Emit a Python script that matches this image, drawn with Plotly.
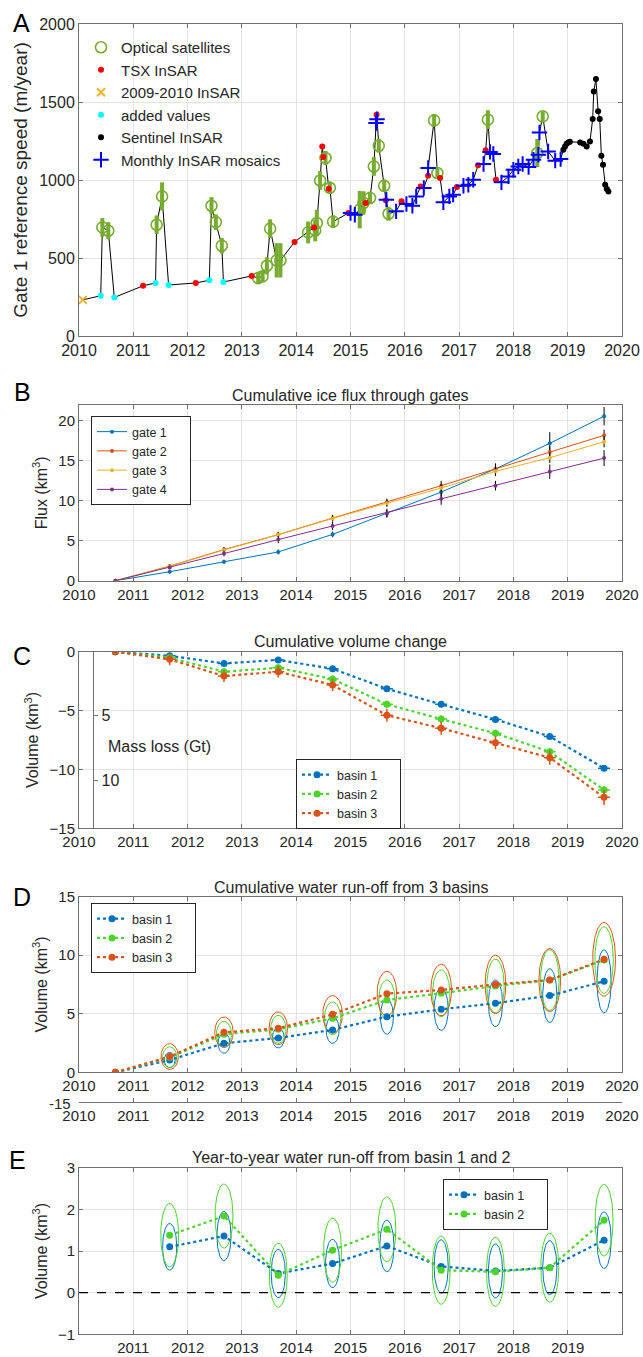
import numpy as np
import plotly.graph_objects as go

# ---------------- Panel A data ----------------
opt_t = [2010.43, 2010.54, 2011.43, 2011.53, 2012.44, 2012.52, 2012.63, 2013.30, 2013.38, 2013.46,
         2013.52, 2013.64, 2013.71, 2014.22, 2014.35, 2014.38, 2014.44, 2014.54, 2014.62, 2014.68,
         2015.17, 2015.24, 2015.36, 2015.43, 2015.52, 2015.62, 2015.70, 2016.54, 2016.60, 2017.53,
         2018.44, 2018.54]
opt_v = [696, 675, 713, 895, 835, 730, 579, 372, 382, 450,
         688, 485, 485, 664, 677, 724, 997, 1141, 950, 733,
         810, 853, 885, 1087, 1220, 963, 784, 1382, 1045, 1387,
         1173, 1408]
opt_e = [60, 55, 60, 90, 55, 50, 50, 40, 35, 55,
         60, 110, 110, 70, 70, 85, 60, 45, 40, 40,
         120, 75, 40, 60, 45, 40, 45, 40, 30, 60,
         90, 30]

tsx_t = [2011.18, 2012.15, 2013.18, 2013.97, 2014.33, 2014.48, 2014.50, 2014.60, 2014.96, 2015.28,
         2015.48, 2015.65, 2015.94, 2016.29, 2016.43, 2016.65, 2016.96, 2017.35, 2017.49, 2017.68]
tsx_v = [322, 340, 385, 603, 696, 1215, 1147, 944, 788, 853,
         1418, 870, 863, 959, 1028, 1013, 955, 1094, 1190, 1002]

old_t = [2010.07]
old_v = [232]

add_t = [2010.40, 2010.65, 2011.41, 2011.65, 2012.40, 2012.66]
add_v = [258, 247, 340, 327, 357, 346]

sen_t = [2018.92, 2018.95, 2018.98, 2019.01, 2019.04, 2019.23, 2019.29, 2019.35, 2019.41, 2019.46,
         2019.48, 2019.52, 2019.56, 2019.59, 2019.62, 2019.65, 2019.69, 2019.72, 2019.75]
sen_v = [1194, 1215, 1232, 1241, 1245, 1241, 1232, 1215, 1247, 1391,
         1568, 1647, 1440, 1391, 1156, 1098, 970, 942, 927]

mon_t = [2015.00, 2015.08, 2015.47, 2015.49, 2015.66, 2015.84, 2016.03, 2016.14, 2016.21, 2016.35,
         2016.43, 2016.71, 2016.82, 2016.89, 2017.08, 2017.17, 2017.26, 2017.45, 2017.57, 2017.63,
         2017.78, 2017.91, 2018.00, 2018.09, 2018.17, 2018.28, 2018.37, 2018.46, 2018.48, 2018.64,
         2018.77, 2018.87]
mon_v = [788, 777, 1365, 1390, 874, 799, 846, 835, 895, 949,
         1077, 857, 895, 906, 963, 970, 1002, 1103, 1180, 1167,
         985, 1023, 1066, 1087, 1103, 1083, 1130, 1162, 1305, 1183,
         1124, 1134]

# ---------------- Panels B-E data ----------------
years = [2010.67, 2011.67, 2012.67, 2013.67, 2014.67, 2015.67, 2016.67, 2017.67, 2018.67, 2019.67]

gate1 = [0, 1.12, 2.37, 3.6, 5.8, 8.4, 11.1, 14.0, 17.2, 20.6]
gate2 = [0, 1.83, 3.9, 5.77, 7.84, 9.83, 11.9, 14.0, 16.1, 18.2]
gate3 = [0, 1.8, 3.85, 5.75, 7.8, 9.7, 11.6, 13.7, 15.4, 17.4]
gate4 = [0, 1.66, 3.4, 5.15, 6.85, 8.46, 10.25, 11.9, 13.65, 15.35]
gate1_err = [0, 0.2, 0.25, 0.3, 0.35, 0.45, 0.6, 0.7, 1.4, 1.15]
gate2_err = [0, 0.25, 0.3, 0.35, 0.4, 0.45, 0.6, 0.6, 0.7, 0.7]
gate3_err = [0, 0.25, 0.3, 0.35, 0.4, 0.45, 0.55, 0.6, 0.65, 0.7]
gate4_err = [0, 0.25, 0.35, 0.45, 0.5, 0.55, 0.75, 0.6, 0.9, 1.0]

vol1 = [0, -0.35, -1.0, -0.7, -1.45, -3.15, -4.47, -5.75, -7.2, -9.9]
vol2 = [0, -0.5, -1.7, -1.36, -2.32, -4.47, -5.72, -6.93, -8.5, -11.75]
vol3 = [0, -0.65, -2.07, -1.7, -2.83, -5.4, -6.5, -7.73, -9.0, -12.37]
vol1_err = [0, 0.15, 0.15, 0.15, 0.15, 0.15, 0.15, 0.15, 0.15, 0.15]
vol2_err = [0, 0.3, 0.3, 0.3, 0.3, 0.3, 0.3, 0.3, 0.35, 0.35]
vol3_err = [0, 0.5, 0.5, 0.5, 0.5, 0.55, 0.55, 0.55, 0.6, 0.65]
vol_terr = [0, 0.11, 0.11, 0.11, 0.11, 0.11, 0.11, 0.11, 0.11, 0.11]
density = 0.917
mass_ticks = [5, 10]

run1 = [0, 1.05, 2.48, 2.93, 3.62, 4.75, 5.38, 5.9, 6.55, 7.77]
run2 = [0, 1.28, 3.25, 3.67, 4.61, 6.18, 6.75, 7.37, 7.88, 9.59]
run3 = [0, 1.34, 3.42, 3.76, 4.95, 6.72, 7.03, 7.51, 7.88, 9.65]
run1_err = [0, 0.65, 0.85, 0.85, 1.15, 1.5, 1.8, 2.0, 2.3, 2.7]
run2_err = [0, 0.9, 1.1, 1.2, 1.4, 1.7, 2.0, 2.3, 2.6, 2.85]
run3_err = [0, 1.1, 1.3, 1.4, 1.6, 1.9, 2.2, 2.5, 2.7, 3.15]
run1_terr = [0, 0.10, 0.11, 0.11, 0.12, 0.12, 0.13, 0.13, 0.13, 0.13]
run2_terr = [0, 0.13, 0.14, 0.14, 0.15, 0.15, 0.16, 0.16, 0.17, 0.17]
run3_terr = [0, 0.16, 0.17, 0.17, 0.18, 0.18, 0.19, 0.19, 0.20, 0.21]

yy_years = [2011.67, 2012.67, 2013.67, 2014.67, 2015.67, 2016.67, 2017.67, 2018.67, 2019.67]
yy1 = [1.10, 1.36, 0.46, 0.70, 1.12, 0.63, 0.52, 0.60, 1.26]
yy2 = [1.38, 1.84, 0.42, 1.02, 1.52, 0.54, 0.50, 0.60, 1.74]
yy1_err = [0.56, 0.59, 0.58, 0.58, 0.62, 0.64, 0.65, 0.65, 0.68]
yy2_err = [0.76, 0.77, 0.77, 0.77, 0.78, 0.82, 0.83, 0.83, 0.86]
yy1_terr = [0.13] * 9
yy2_terr = [0.165] * 9

year_ticks = list(range(2010, 2021))
e_ticks = list(range(2011, 2020))
ghost_label = '-15'

# ---------------- style ----------------
W, H = 643, 1357
FONT = 'Liberation Sans, Arial, sans-serif'
TXT = '#262626'
FRAME = '#707070'
GRID = '#e4e4e4'
BLUE = '#0072BD'
ORANGE = '#D95319'
YELLOW = '#EDB120'
PURPLE = '#7E2F8E'
GREEN = '#4CD42A'
OPTG = '#77AC30'
PAD = '\u00a0' * 5


def py(p):
    return 1 - p / H


XD = [79 / W, 622 / W]

fig = go.Figure()


def ellipses(xc, yc, hw, hh):
    t = np.linspace(0, 2 * np.pi, 73)
    xs, ys = [], []
    for a, b, w, h in zip(xc, yc, hw, hh):
        if h <= 0:
            continue
        xs += list(a + w * np.cos(t)) + [None]
        ys += list(b + h * np.sin(t)) + [None]
    return xs, ys


# ---------- Panel A ----------
all_t = np.array(opt_t + tsx_t + old_t + add_t + sen_t + mon_t)
all_v = np.array(opt_v + tsx_v + old_v + add_v + sen_v + mon_v)
order = np.argsort(all_t, kind='stable')
fig.add_trace(go.Scatter(x=all_t[order], y=all_v[order], mode='lines', line=dict(color='black', width=1),
                         showlegend=False, hoverinfo='skip', xaxis='x', yaxis='y'))
fig.add_trace(go.Scatter(x=opt_t, y=opt_v, mode='markers', name='Optical satellites',
                         marker=dict(symbol='circle-open', size=11, color=OPTG, line=dict(width=1.6, color=OPTG)),
                         error_y=dict(type='data', array=opt_e, thickness=4, width=0, color=OPTG),
                         xaxis='x', yaxis='y', legend='legend'))
fig.add_trace(go.Scatter(x=tsx_t, y=tsx_v, mode='markers', name='TSX InSAR',
                         marker=dict(symbol='circle', size=6, color='#FF0000'), xaxis='x', yaxis='y', legend='legend'))
fig.add_trace(go.Scatter(x=old_t, y=old_v, mode='markers', name='2009-2010 InSAR',
                         marker=dict(symbol='x-thin', size=8, color=YELLOW, line=dict(width=1.8, color=YELLOW)),
                         xaxis='x', yaxis='y', legend='legend'))
fig.add_trace(go.Scatter(x=add_t, y=add_v, mode='markers', name='added values',
                         marker=dict(symbol='circle', size=6, color='#00FFFF'), xaxis='x', yaxis='y', legend='legend'))
fig.add_trace(go.Scatter(x=sen_t, y=sen_v, mode='markers', name='Sentinel InSAR',
                         marker=dict(symbol='circle', size=6, color='black'), xaxis='x', yaxis='y', legend='legend'))
fig.add_trace(go.Scatter(x=mon_t, y=mon_v, mode='markers', name='Monthly InSAR mosaics',
                         marker=dict(symbol='cross-thin', size=11, color='#0000FF', line=dict(width=2, color='#0000FF')),
                         xaxis='x', yaxis='y', legend='legend'))

# ---------- Panel B ----------
for nm, vals, err, col in [('gate 1', gate1, gate1_err, BLUE), ('gate 2', gate2, gate2_err, ORANGE),
                           ('gate 3', gate3, gate3_err, YELLOW), ('gate 4', gate4, gate4_err, PURPLE)]:
    fig.add_trace(go.Scatter(x=years, y=vals, mode='lines+markers', name=nm + PAD,
                             line=dict(color=col, width=1), marker=dict(size=4, color=col),
                             error_y=dict(type='data', array=err, thickness=1, width=0, color='black'),
                             xaxis='x2', yaxis='y2', legend='legend2'))

# ---------- Panel C ----------
for nm, vals, err, col in [('basin 1', vol1, vol1_err, BLUE), ('basin 2', vol2, vol2_err, GREEN),
                           ('basin 3', vol3, vol3_err, ORANGE)]:
    fig.add_trace(go.Scatter(x=years, y=vals, mode='lines+markers', name=nm + PAD,
                             line=dict(color=col, width=2.2, dash='dot'), marker=dict(size=7, color=col),
                             error_y=dict(type='data', array=err, thickness=1.5, width=0, color=col),
                             error_x=dict(type='data', array=vol_terr, thickness=1.5, width=0, color=col),
                             xaxis='x3', yaxis='y3', legend='legend3'))

# ---------- Panel D ----------
for vals, err, terr, col in [(run1, run1_err, run1_terr, BLUE), (run2, run2_err, run2_terr, GREEN),
                             (run3, run3_err, run3_terr, ORANGE)]:
    ex, ey = ellipses(years, vals, terr, err)
    fig.add_trace(go.Scatter(x=ex, y=ey, mode='lines', line=dict(color=col, width=1), showlegend=False,
                             hoverinfo='skip', xaxis='x4', yaxis='y4'))
for nm, vals, col in [('basin 1', run1, BLUE), ('basin 2', run2, GREEN), ('basin 3', run3, ORANGE)]:
    fig.add_trace(go.Scatter(x=years, y=vals, mode='lines+markers', name=nm + PAD,
                             line=dict(color=col, width=2.2, dash='dot'), marker=dict(size=7, color=col),
                             xaxis='x4', yaxis='y4', legend='legend4'))

# ---------- Panel E ----------
for vals, err, terr, col in [(yy1, yy1_err, yy1_terr, BLUE), (yy2, yy2_err, yy2_terr, GREEN)]:
    ex, ey = ellipses(yy_years, vals, terr, err)
    fig.add_trace(go.Scatter(x=ex, y=ey, mode='lines', line=dict(color=col, width=1), showlegend=False,
                             hoverinfo='skip', xaxis='x5', yaxis='y5'))
for nm, vals, col in [('basin 1', yy1, BLUE), ('basin 2', yy2, GREEN)]:
    fig.add_trace(go.Scatter(x=yy_years, y=vals, mode='lines+markers', name=nm + PAD,
                             line=dict(color=col, width=2.2, dash='dot'), marker=dict(size=7, color=col),
                             xaxis='x5', yaxis='y5', legend='legend5'))

# invisible traces that activate the extra axes
fig.add_trace(go.Scatter(x=[2015], y=[5], mode='markers', marker=dict(opacity=0), showlegend=False,
                         hoverinfo='skip', xaxis='x7', yaxis='y4'))
fig.add_trace(go.Scatter(x=[2015], y=[1], mode='markers', marker=dict(opacity=0), showlegend=False,
                         hoverinfo='skip', xaxis='x3', yaxis='y6'))


# ---------------- axes ----------------
def xax(anchor, ticks=year_ticks, fs=15):
    return dict(domain=XD, anchor=anchor, range=[2010, 2020], tickvals=ticks, showgrid=True, gridcolor=GRID,
                gridwidth=1, showline=True, linecolor=FRAME, linewidth=1, mirror='ticks', ticks='inside',
                ticklen=4, tickcolor=FRAME, tickfont=dict(size=fs, color=TXT, family=FONT), zeroline=False,
                automargin=False, fixedrange=True)


def yax(anchor, dom, rng, tv, title, fs=15, tfs=16, standoff=6):
    return dict(domain=dom, anchor=anchor, range=rng, tickvals=tv, showgrid=True, gridcolor=GRID, gridwidth=1,
                showline=True, linecolor=FRAME, linewidth=1, mirror='ticks', ticks='inside', ticklen=4,
                tickcolor=FRAME, tickfont=dict(size=fs, color=TXT, family=FONT), zeroline=False,
                title=dict(text=title, font=dict(size=tfs, color=TXT, family=FONT), standoff=standoff),
                automargin=False, fixedrange=True)


def boxed_legend(xp, yp):
    return dict(x=xp / W, y=py(yp), xanchor='left', yanchor='top', bgcolor='white', bordercolor='#262626',
                borderwidth=1, font=dict(size=12.5, family=FONT, color=TXT), tracegroupgap=0)


layout = dict(
    width=W, height=H, margin=dict(l=0, r=0, t=0, b=0), template='none',
    font=dict(family=FONT, color=TXT),
    xaxis=xax('y', fs=16),
    yaxis=yax('x', [py(336), py(24)], [0, 2000], [0, 500, 1000, 1500, 2000],
              'Gate 1 reference speed (m/year)', fs=16, tfs=19, standoff=6),
    xaxis2=xax('y2'),
    yaxis2=yax('x2', [py(580.7), py(405)], [0, 22], [0, 5, 10, 15, 20], 'Flux (km<sup>3</sup>)'),
    xaxis3=xax('y3'),
    yaxis3=yax('x3', [py(828.3), py(651.7)], [-15, 0], [-15, -10, -5, 0], 'Volume (km<sup>3</sup>)'),
    xaxis4=xax('y4'),
    yaxis4=yax('x4', [py(1072.3), py(896.7)], [0, 15], [0, 5, 10, 15], 'Volume (km<sup>3</sup>)'),
    xaxis5=xax('y5', ticks=e_ticks),
    yaxis5=yax('x5', [py(1334.3), py(1167.7)], [-1, 3], [-1, 0, 1, 2, 3], 'Volume (km<sup>3</sup>)'),
    yaxis6=dict(overlaying='y3', anchor='free', position=93.3 / W, side='right',
                range=[15 * density, 0], tickvals=mass_ticks, showgrid=False, zeroline=False,
                showline=True, linecolor=FRAME, linewidth=1.2, ticks='outside', ticklen=4, tickcolor=FRAME,
                tickfont=dict(size=16, color=TXT, family=FONT), automargin=False, fixedrange=True),
    xaxis7=dict(overlaying='x4', anchor='free', position=py(1102), range=[2010, 2020],
                tickvals=year_ticks, showgrid=False, showline=True, linecolor=FRAME, linewidth=1,
                ticks='inside', ticklen=4, tickcolor=FRAME,
                tickfont=dict(size=15, color=TXT, family=FONT), zeroline=False, automargin=False,
                fixedrange=True),
    legend=dict(x=81 / W, y=py(31), xanchor='left', yanchor='top', bgcolor='rgba(0,0,0,0)', borderwidth=0,
                font=dict(size=15, family=FONT, color=TXT), tracegroupgap=0),
    legend2=boxed_legend(91, 416),
    legend3=boxed_legend(296, 759),
    legend4=boxed_legend(91, 903),
    legend5=boxed_legend(443, 1179),
)
fig.update_layout(**layout)

# dashed zero line in E
fig.add_shape(type='line', xref='x5 domain', x0=0, x1=1, yref='y5', y0=0, y1=0,
              line=dict(color='black', width=1.2, dash='dash'))

# annotations: panel letters and titles
letters = [('A', 21, 23), ('B', 22, 392), ('C', 22, 656), ('D', 22, 897), ('E', 17, 1160)]
for L, xp, yp in letters:
    fig.add_annotation(text=L, x=xp / W, y=py(yp), xref='paper', yref='paper', showarrow=False,
                       xanchor='center', yanchor='middle', font=dict(size=25, family=FONT, color='black'))
titles = [('Cumulative ice flux through gates', 396), ('Cumulative volume change', 642),
          ('Cumulative water run-off from 3 basins', 887), ('Year-to-year water run-off from basin 1 and 2', 1157)]
for t, yp in titles:
    fig.add_annotation(text=t, x=(XD[0] + XD[1]) / 2, y=py(yp), xref='paper', yref='paper', showarrow=False,
                       xanchor='center', yanchor='middle', font=dict(size=16, family=FONT, color=TXT))
fig.add_annotation(text='Mass loss (Gt)', x=106 / W, y=py(746), xref='paper', yref='paper', showarrow=False,
                   xanchor='left', yanchor='middle', font=dict(size=16, family=FONT, color=TXT))
fig.add_annotation(text=ghost_label, x=73 / W, y=py(1103), xref='paper', yref='paper', showarrow=False,
                   xanchor='right', yanchor='middle', font=dict(size=15, family=FONT, color=TXT))

fig.write_html("out.html", config={'displayModeBar': False},
               post_script="document.body.style.margin='0';")
